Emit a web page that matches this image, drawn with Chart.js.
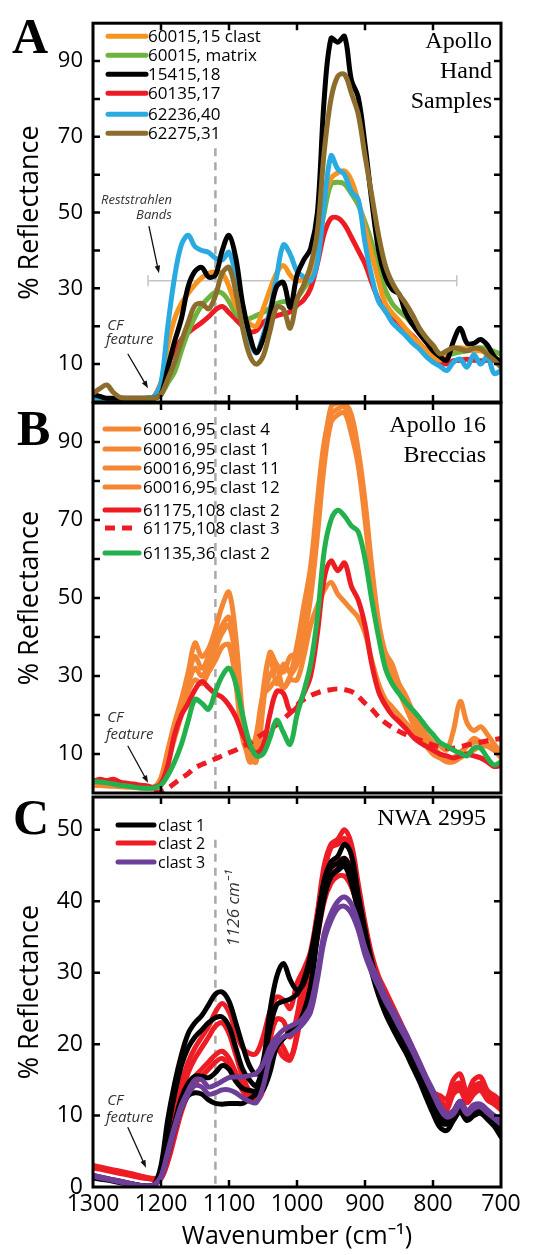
<!DOCTYPE html>
<html>
<head>
<meta charset="utf-8">
<script src="https://cdn.jsdelivr.net/npm/chart.js@4.4.1/dist/chart.umd.min.js"></script>
<style>
  html, body { margin: 0; padding: 0; background: #fff; }
  #wrap { position: relative; width: 551px; height: 1255px; }
  #wrap canvas { position: absolute; left: 0; top: 0; }
</style>
</head>
<body>
<div id="wrap">
  <canvas id="panelA" width="551" height="1255"></canvas>
  <canvas id="panelB" width="551" height="1255"></canvas>
  <canvas id="panelC" width="551" height="1255"></canvas>
</div>
<script>
// wavenumber grid (cm-1) shared by every spectrum
const wavenumbers = [1300,1290,1280,1270,1260,1250,1240,1230,1220,1210,
  1200,1190,1180,1170,1160,1150,1140,1130,1120,1110,
  1100,1090,1080,1070,1060,1050,1040,1030,1020,1010,
  1000,990,980,970,960,950,940,930,920,910,
  900,890,880,870,860,850,840,830,820,810,
  800,790,780,770,760,750,740,730,720,710,700];
const xTickValues = [1300,1200,1100,1000,900,800,700];

// ---- Panel A: Apollo hand samples (% reflectance) ----
const orangeA = [1,1,0.9,0.9,0.8,0.8,0.8,0.9,1,1.5,
  5,15,22,26,28.7,31,32.8,34,34.3,34,
  30.5,25.5,22.5,20.7,20,24.5,29.5,34,36,33.5,
  32,32.5,34,42,53,59,60.5,61,58.5,53,
  46,39,32,26,23.5,21.5,19.3,17.2,15.5,13.5,
  12,11,12.8,14,14.3,14,13.5,13.5,12.8,11.7,10.5];
const greenA = [0.5,0.6,0.7,0.8,0.8,0.8,0.8,0.9,1,1,
  2,5,8,13.5,18.5,22.5,25.5,27.5,29,28.7,
  26.5,23.3,22,22,22.8,23.6,24.8,26,26.5,26.3,
  27.5,30,33,40,50,57.5,58,57.5,55,52,
  47.5,42,35,29.5,26,24,22.5,20.5,19,16.5,
  14.5,12.5,12.2,12.8,13.2,13.5,14,14.3,14,13.3,12.6];
const blackA = [2,1.5,1,1,1,1,1,1,1,1,
  2,9,16,22,30.5,34.5,35.5,33,33.5,40,
  44,38,26,18,13,16.5,23,30.5,31.5,25,
  33.5,37.5,40.5,50,80,96,95,96.5,85,80.5,
  68,53,40,33,29.7,28.5,23.5,20.5,18,15.8,
  13.5,12,11,16,19.5,15.5,15.5,16.5,15,12,10.5];
const redA = [0.5,0.5,0.5,0.5,0.5,0.6,0.6,0.7,0.8,1.5,
  5,10,13.5,16.5,18.3,19.7,21,22.5,24.3,25.2,
  23.6,21.8,20,18.6,18.8,21,22,22.8,23.3,23.8,
  25.5,27,30,36.5,44.5,48.5,48.6,46.8,43.5,40,
  36.5,31.5,27,24,22.5,21,19,17.5,15.5,13.5,
  11.7,10.8,10,10.9,11,11.3,11,10.9,11,10.9,10];
const blueA = [1,0.8,0.5,0.5,0.5,0.5,0.7,0.8,1,1.5,
  5,20,33,41.5,44,41,40,39.5,38,37.5,
  39.5,33,23,16.5,13,17.5,24,33,41.5,39,
  34.5,33,32,37,52,65,61.5,60,55.5,53.5,
  42,33,26.5,24,21,19.2,17.5,15.5,14,12,
  10.5,9.5,8.3,10.5,11.3,9.2,12.5,10,12,7.5,8.3];
const brownA = [2.3,3.5,4.5,2.5,1.2,1,1,1,1,1,
  2,6,10.5,16,21,25.5,26,24.6,28,34,
  35.5,29,19.5,12.5,10,12,18.5,25,24.5,19.5,
  27,31,36,45,66,80,86,86.5,81.5,76,
  65,54.5,44,36,31.5,28.5,26,23,19.5,17,
  15,12.7,13.5,14.3,14,13.5,14.2,14,12.5,11,9.2];
const labelsA = ['60015,15 clast','60015, matrix','15415,18','60135,17','62236,40','62275,31'];
const colorsA = ['#f7941d','#6db33f','#000000','#ed1c24','#29abe2','#8c6d2c'];

// ---- Panel B: Apollo 16 breccias ----
const clast4B = [3,2.8,2.6,2.4,2.2,2,1.8,1.6,1.5,1.5,
  4,11,18,24,31,38.5,35,37,42,48,
  51.5,40,20,9,8,22,36,33,31,35,
  36,46,55,70,88,99,100,100,97,88,
  75,58,44,36,33,28,25,21,18,15,
  13,12,11,16,23.5,18,16,17,15,12.5,10.5];
const clast1B = [2.5,2.4,2.3,2.2,2,1.9,1.8,1.6,1.5,1.5,
  3,10,17,23,30,35,32,35,39,43,
  45,36,18,8,10,26,35,28,33,31,
  38,48,58,75,90,97,98.5,99,95,86,
  72,56,42,35,31,27,23,20,16.5,14,
  12,10,9,9,10,12,14,13,12,11,10];
const clast11B = [2.2,2.1,2,1.9,1.8,1.7,1.6,1.5,1.4,1.4,
  3,9,16,22,28,32,30,33,37,41,
  43,34,17,9,12,24,30,32,27,30,
  33,40,50,66,84,95,97,97.5,92,84,
  70,54,41,34,30,26,22,18,15,13,
  11,9.5,8.5,9,10.5,12,13,13,12.5,11,9];
const clast12B = [2,1.9,1.8,1.7,1.6,1.5,1.4,1.3,1.2,1.2,
  2.5,8,14,20,26,29,28,31,34,37.5,
  38,28,14,10,15,25,27,29,27,29,
  29,35,43,48,52,54,51,49,47,45,
  41,34,28,24,22,20,18,16,14,12,
  10,9,8,8,9,10,11,12,12,11,10];
const red2B = [3,3.5,3.2,3.5,2.8,2.5,2.3,2,1.8,1.5,
  2.5,7,15,20,23,26.5,28.6,27,25.5,24.5,
  22.5,19.5,15,12,10.3,12,20,26,25.5,21,
  22,25.5,30,41,55,59.5,57,59,53,49.5,
  43,33,26,22.5,20,18.3,16.5,14.5,13,12,
  11,10,9.5,9,9.5,10,9.5,9,8,6.8,7];
const red3B = [null,null,null,null,null,null,null,null,null,0,
  0.4,1.2,2.5,3.8,5,6.5,7.3,8,8.8,9.5,
  10.3,11,12,12.8,14,15.2,16.3,17.5,19,20.5,
  22.5,24,25,25.7,26.2,26.5,26.7,26.5,26,24.8,
  23,21.5,19.5,18,16.8,15.8,15,14.3,13.6,13,
  12.3,11.8,11.5,11.5,11.8,12.3,12.6,13,13.4,13.7,14];
const green2B = [3,2.8,2.6,2.3,2,1.8,1.5,1.3,1.2,1.3,
  2,4.5,8,12.5,18.5,24,23,21.5,26,30,
  32,28,20,13,9.5,10,14,18.7,15.5,12.5,
  20,26,33,45,62,70,72.5,71,68.5,67,
  60,49.5,40,32,28,25.5,23.2,21.3,19.3,17,
  15,13,12,11,10.2,9.5,11.5,11.5,9,7.2,8];
const labelsB = ['60016,95 clast 4','60016,95 clast 1','60016,95 clast 11','60016,95 clast 12',
  '61175,108 clast 2','61175,108 clast 3','61135,36 clast 2'];
const orangeB = '#f58634', redB = '#ed1c24', greenB = '#22b14c';

// ---- Panel C: NWA 2995 clasts ----
const clast1C = [
  [1.6,1.4,1.2,1.0,0.8,0.6,0.4,0.2,0.1,0.3,
   3,9.5,14.5,18.5,21.5,23,24,25.5,27,27.3,
   26,23,19.8,17,15.8,17.5,24.5,29.4,31.3,29,
   27.6,28.5,32,37.5,43,45.5,46.3,48,46.5,41,
   36,31.5,28.5,26.5,24.8,22.8,21,18.8,16.6,14.4,
   12.3,9.5,9.3,10.5,12,10.5,11.3,11.2,10.3,9,7.5],
  [1.5,1.3,1.1,0.9,0.7,0.5,0.4,0.2,0.1,0.3,
   2,8,13,17,19.5,21,22,23,23.7,23.8,
   22.5,19.5,16.5,15,14.2,17,22,25.5,26,26.3,
   27,29,32.5,37.5,42.5,44.8,45.3,46,44,40,
   35.5,31,27.8,25.5,23.5,21.8,20,18,16,13.8,
   11.8,9.8,9.5,10.3,11.5,10.2,11,11.3,10.5,9.3,8],
  [1.4,1.2,1.0,0.9,0.7,0.5,0.3,0.2,0.1,0.3,
   1.5,5,9,12.5,14.5,15.5,15.5,15.3,16,17,
   16.5,14.8,13.8,13.5,13.5,15,18,19.7,20.8,21.8,
   22.6,24.5,28,35,40.5,43.5,44.5,45.3,43.5,39.5,
   35,30.5,27.3,25,23,21.3,19.5,17.5,15.5,13.3,
   11.2,9.2,8.8,10,11,9.8,10.5,10.8,10,8.8,7.8],
  [1.3,1.1,1.0,0.8,0.6,0.5,0.3,0.2,0.1,0.2,
   1.5,4.5,8,11,12.8,13.2,13,12.2,11.7,11.6,
   11.7,11.7,11.7,12.3,13,13.6,16,19.6,20.8,21.5,
   22.5,24.3,28,35.5,41,43.5,44.3,44.9,42.5,38.5,
   34,30,26.8,24.3,22.3,20.5,18.8,16.8,14.8,12.5,
   10.3,8.4,7.9,9.3,10.5,9.3,10,10.3,9.5,8.5,7]
];
const clast2C = [
  [3.0,2.8,2.6,2.4,2.2,2.0,1.8,1.5,1.3,1.2,
   1.5,5,10,14.5,17.5,19.5,21,22.5,24.5,25.7,
   24.5,21.8,19.5,18.7,18.7,21,24.5,26.6,26.2,25,
   28.5,30.5,33,38.5,45,48,48.7,50,48,42.5,
   37,32.5,29.5,27.5,25.5,23.5,21.5,19.5,17.3,15.3,
   13.3,12.8,12.3,15,15.8,13.2,15,15.4,13.5,12.8,12],
  [2.9,2.7,2.5,2.3,2.1,1.9,1.7,1.5,1.3,1.1,
   1.3,4.5,9,13,16,18,19.5,21,22.5,23,
   21.5,18.5,15.5,13.5,13,15.5,20.5,23.5,23.2,21,
   24,29.5,32.5,38,44,47.5,48,48.8,46.5,41.5,
   36.5,32,29,27,25,23,21,19,17,15,
   13,12,11.5,14,14.5,12.5,14,14.5,13,12.3,11.5],
  [2.8,2.6,2.4,2.2,2.0,1.8,1.6,1.4,1.2,1.1,
   1.2,4,8,11.5,14,15.5,16.5,17.5,18.5,19,
   18,16,14,12.8,12.5,14.5,19,21,19.5,18,
   21.5,27,31.5,37,42,44.5,45.5,46,44.5,40,
   35.5,31.5,28.5,26.5,24.5,22.5,20.5,18.5,16.5,14.5,
   12.5,11.5,11,13.5,14,12,13.5,14,12.5,12,11],
  [2.7,2.5,2.3,2.1,1.9,1.7,1.5,1.3,1.2,1.1,
   1.2,3.5,7,10.5,13,14.5,15.5,16.5,17.5,18,
   17,15.3,13.5,12.3,12,13.5,17.5,19.5,18.2,17.8,
   21,26.5,30,35,40,42.5,43.5,43.5,42,39,
   35,31,28,26,24,22,20,18,16,14,
   12,11.2,10.8,13,13.5,11.8,13,13.5,12.2,11.6,10.8]
];
const clast3C = [
  [1.6,1.4,1.2,1.0,0.8,0.6,0.4,0.2,0.1,0.3,
   1.5,5,8.5,11.5,13.5,15,15,14,14.3,14.8,
   15.3,15.4,15.4,15.6,15.9,17.2,19.5,21,22,22.5,
   23,23.8,25.5,30,35.5,38.3,40,40.6,39.6,37,
   33.5,31,29,26.7,25,23.2,21.5,19.5,17.5,15.4,
   13.5,11.5,10.3,10.7,12,10.7,11.5,11.6,10.8,10,9.3],
  [1.5,1.3,1.1,0.9,0.7,0.5,0.3,0.2,0.1,0.3,
   1.3,4.5,8,11,13,14.2,14,13,13.2,13.6,
   13.6,13.2,12.5,12,11.8,14,18,20,21,21.3,
   22,23,24.5,29,34.5,37.3,39,39.3,38.3,36,
   32.5,30,28,26,24.3,22.5,20.8,19,17,15,
   13,11,9.8,10.2,11.5,10.2,11,11.2,10.4,9.6,8.8]
];
const labelsC = ['clast 1','clast 2','clast 3'];
const colorsC = ['#000000','#ee1c25','#6d3f98'];

// reference marks
const bandMarkerWn = 1120;           // dashed line labelled 1126 cm-1
const reststrahlenSpan = [1219, 765]; // grey bar in panel A
const reststrahlenLevel = 32;

const SANS = "'Open Sans', 'Noto Sans', sans-serif";
const SERIF = "'Liberation Serif', 'DejaVu Serif', serif";
Chart.defaults.font.family = SANS;
Chart.defaults.color = '#000';

function toPoints(values) {
  return values.map((v, i) => ({ x: wavenumbers[i], y: v }));
}

function spectrum(values, color, dash) {
  return {
    data: toPoints(values),
    borderColor: color,
    borderWidth: 5,
    borderDash: dash || [],
    borderCapStyle: dash ? 'butt' : 'round',
    borderJoinStyle: 'round',
    pointRadius: 0,
    tension: 0.35,
    fill: false
  };
}

function guide(points, color, width, dash) {
  return {
    data: points, borderColor: color, borderWidth: width,
    borderDash: dash || [], pointRadius: 0, tension: 0, fill: false
  };
}

// frame, inward ticks, legend and annotations
function decor(cfg) {
  return {
    id: 'decor',
    afterDraw(chart) {
      const { ctx, chartArea: a, scales: { x, y } } = chart;
      const px = wn => x.getPixelForValue(wn);
      const py = v => y.getPixelForValue(v);
      ctx.save();

      // inward ticks
      ctx.strokeStyle = '#000';
      ctx.lineWidth = 2.5;
      ctx.beginPath();
      [1200, 1100, 1000, 900, 800].forEach(v => {
        const xx = px(v);
        ctx.moveTo(xx, a.bottom); ctx.lineTo(xx, a.bottom - 7);
        ctx.moveTo(xx, a.top); ctx.lineTo(xx, a.top + 7);
      });
      cfg.yTicks.forEach(v => {
        const yy = py(v);
        ctx.moveTo(a.left, yy); ctx.lineTo(a.left + 7, yy);
        ctx.moveTo(a.right, yy); ctx.lineTo(a.right - 7, yy);
      });
      ctx.stroke();
      ctx.lineWidth = 3;
      ctx.strokeRect(a.left, a.top, a.right - a.left, a.bottom - a.top);

      // panel letter
      ctx.fillStyle = '#000';
      ctx.textBaseline = 'alphabetic';
      ctx.textAlign = 'left';
      ctx.font = 'bold 50px ' + SERIF;
      ctx.fillText(cfg.letter, cfg.letterPos[0], a.top + cfg.letterPos[1]);

      // title block (serif, right aligned)
      ctx.font = '24px ' + SERIF;
      ctx.textAlign = 'right';
      cfg.title.forEach((t, i) => ctx.fillText(t, a.right + cfg.titlePos[0], a.top + cfg.titlePos[1] + i * 30));

      // legend
      ctx.textAlign = 'left';
      ctx.textBaseline = 'middle';
      ctx.font = cfg.legend.font;
      cfg.legend.items.forEach((it, i) => {
        const yy = a.top + cfg.legend.rows[i];
        ctx.strokeStyle = it.color;
        ctx.lineWidth = 5;
        ctx.lineCap = it.dash ? 'butt' : 'round';
        ctx.setLineDash(it.dash || []);
        ctx.beginPath();
        ctx.moveTo(a.left + cfg.legend.x0, yy);
        ctx.lineTo(a.left + cfg.legend.x1, yy);
        ctx.stroke();
        ctx.setLineDash([]);
        ctx.fillStyle = '#000';
        ctx.fillText(it.label, a.left + cfg.legend.tx, yy + 1);
      });

      // grey caps on the reststrahlen bar
      (cfg.caps || []).forEach(c => {
        ctx.strokeStyle = '#c4c4c4';
        ctx.lineWidth = 1.5;
        ctx.beginPath();
        ctx.moveTo(px(c[0]), py(c[1]) - 5);
        ctx.lineTo(px(c[0]), py(c[1]) + 5);
        ctx.stroke();
      });

      // notes
      ctx.textBaseline = 'alphabetic';
      cfg.notes.forEach(n => {
        ctx.save();
        ctx.fillStyle = '#333';
        ctx.font = n.font;
        ctx.textAlign = n.align || 'left';
        ctx.translate(px(n.wn), py(n.val));
        if (n.rotate) { ctx.rotate(-Math.PI / 2); ctx.textBaseline = 'middle'; }
        ctx.fillText(n.text, 0, 0);
        ctx.restore();
      });

      // arrows
      cfg.arrows.forEach(ar => {
        const x0 = px(ar[0][0]), y0 = py(ar[0][1]);
        const x1 = px(ar[1][0]), y1 = py(ar[1][1]);
        const ang = Math.atan2(y1 - y0, x1 - x0);
        ctx.strokeStyle = '#111';
        ctx.fillStyle = '#111';
        ctx.lineWidth = 1.3;
        ctx.beginPath();
        ctx.moveTo(x0, y0);
        ctx.lineTo(x1 - 5 * Math.cos(ang), y1 - 5 * Math.sin(ang));
        ctx.stroke();
        ctx.beginPath();
        ctx.moveTo(x1, y1);
        ctx.lineTo(x1 - 8 * Math.cos(ang - 0.35), y1 - 8 * Math.sin(ang - 0.35));
        ctx.lineTo(x1 - 8 * Math.cos(ang + 0.35), y1 - 8 * Math.sin(ang + 0.35));
        ctx.closePath();
        ctx.fill();
      });
      ctx.restore();
    }
  };
}

function buildChart(id, datasets, opts) {
  const showX = !!opts.showX;
  return new Chart(document.getElementById(id), {
    type: 'line',
    data: { datasets },
    options: {
      responsive: false,
      animation: false,
      layout: { padding: { left: 0, right: 50, top: opts.top, bottom: opts.bottom } },
      plugins: { legend: { display: false }, tooltip: { enabled: false } },
      scales: {
        x: {
          type: 'linear', min: 700, max: 1300, reverse: true,
          display: showX,
          afterFit: s => { s.height = showX ? 68 : 0; },
          afterBuildTicks: s => { s.ticks = xTickValues.map(v => ({ value: v })); },
          grid: { display: false, drawTicks: false },
          border: { display: false },
          ticks: { font: { size: 23 }, padding: 4, color: '#000', maxRotation: 0, callback: v => String(v) },
          title: {
            display: showX, text: 'Wavenumber (cm\u207B\u00B9)',
            font: { size: 25 }, color: '#000', padding: { top: 0, bottom: 3 }
          }
        },
        y: {
          type: 'linear', min: 0, max: opts.yMax,
          afterFit: s => { s.width = 93; },
          afterBuildTicks: s => { s.ticks = opts.yLabels.map(v => ({ value: v })); },
          grid: { display: false, drawTicks: false },
          border: { display: false },
          ticks: { font: { size: opts.yFont }, padding: 10, color: '#000', callback: v => String(v) },
          title: {
            display: true, text: '% Reflectance',
            font: { size: 27 }, color: '#000', padding: { top: 14, bottom: 0 }
          }
        }
      }
    },
    plugins: [decor(opts.decor)]
  });
}

// ---------- Panel A ----------
buildChart('panelA', [
  spectrum(brownA, colorsA[5]),
  spectrum(blackA, colorsA[2]),
  spectrum(blueA, colorsA[4]),
  spectrum(orangeA, colorsA[0]),
  spectrum(greenA, colorsA[1]),
  spectrum(redA, colorsA[3]),
  guide([{ x: reststrahlenSpan[0], y: reststrahlenLevel }, { x: reststrahlenSpan[1], y: reststrahlenLevel }], '#c4c4c4', 1.5),
  guide([{ x: bandMarkerWn, y: 67 }, { x: bandMarkerWn, y: 0 }], '#a9a9a9', 2.5, [8, 6])
], {
  top: 13, bottom: 853, yMax: 100, yFont: 22,
  yLabels: [10, 30, 50, 70, 90],
  decor: {
    letter: 'A', letterPos: [12, 30],
    title: ['Apollo', 'Hand', 'Samples'], titlePos: [-9, 25],
    yTicks: [10, 20, 30, 40, 50, 60, 70, 80, 90],
    legend: {
      font: '17px ' + SANS, x0: 15, x1: 53, tx: 55,
      rows: [13, 32, 51, 70, 91, 110],
      items: labelsA.map((l, i) => ({ label: l, color: colorsA[i] }))
    },
    caps: [[reststrahlenSpan[0], reststrahlenLevel], [reststrahlenSpan[1], reststrahlenLevel]],
    notes: [
      { text: 'Reststrahlen', wn: 1184, val: 52.4, font: 'italic 13px ' + SANS, align: 'right' },
      { text: 'Bands', wn: 1184, val: 48.3, font: 'italic 13px ' + SANS, align: 'right' },
      { text: 'CF', wn: 1279, val: 19, font: 'italic 15px ' + SANS },
      { text: 'feature', wn: 1281, val: 15.2, font: 'italic 15px ' + SANS }
    ],
    arrows: [
      [[1217.6, 46.3], [1203, 34]],
      [[1248.5, 12.6], [1219, 3.6]]
    ]
  }
});

// ---------- Panel B ----------
buildChart('panelB', [
  spectrum(green2B, greenB),
  spectrum(red2B, redB),
  spectrum(red3B, redB, [10, 7]),
  spectrum(clast4B, orangeB),
  spectrum(clast1B, orangeB),
  spectrum(clast11B, orangeB),
  spectrum(clast12B, orangeB),
  guide([{ x: bandMarkerWn, y: 100 }, { x: bandMarkerWn, y: 0 }], '#a9a9a9', 2.5, [8, 6])
], {
  top: 403, bottom: 462, yMax: 100, yFont: 22,
  yLabels: [10, 30, 50, 70, 90],
  decor: {
    letter: 'B', letterPos: [17, 42],
    title: ['Apollo 16', 'Breccias'], titlePos: [-15, 29],
    yTicks: [10, 20, 30, 40, 50, 60, 70, 80, 90],
    legend: {
      font: '17px ' + SANS, x0: 12, x1: 46, tx: 50,
      rows: [26, 46, 65, 84, 107, 125, 150],
      items: labelsB.map((l, i) => ({
        label: l,
        color: i < 4 ? orangeB : (i < 6 ? redB : greenB),
        dash: i === 5 ? [10, 7] : null
      }))
    },
    notes: [
      { text: 'CF', wn: 1279, val: 18.2, font: 'italic 15px ' + SANS },
      { text: 'feature', wn: 1281, val: 13.8, font: 'italic 15px ' + SANS }
    ],
    arrows: [[[1248.5, 12], [1219, 2.6]]]
  }
});

// ---------- Panel C ----------
buildChart('panelC', [
  ...clast3C.map(v => spectrum(v, colorsC[2])),
  ...clast1C.map(v => spectrum(v, colorsC[0])),
  ...clast2C.map(v => spectrum(v, colorsC[1])),
  guide([{ x: bandMarkerWn, y: 48.6 }, { x: bandMarkerWn, y: 0 }], '#a9a9a9', 2.5, [8, 6])
], {
  top: 797, bottom: 0, yMax: 54.6, yFont: 23, showX: true,
  yLabels: [0, 10, 20, 30, 40, 50],
  decor: {
    letter: 'C', letterPos: [13, 37],
    title: ['NWA 2995'], titlePos: [-15, 28],
    yTicks: [10, 20, 30, 40, 50],
    legend: {
      font: '16px ' + SANS, x0: 25, x1: 61, tx: 65,
      rows: [28, 46, 65],
      items: labelsC.map((l, i) => ({ label: l, color: colorsC[i] }))
    },
    notes: [
      { text: '1126 cm\u207B\u00B9', wn: 1092.6, val: 39, font: 'italic 17px ' + SANS, align: 'center', rotate: true },
      { text: 'CF', wn: 1279, val: 11.5, font: 'italic 15px ' + SANS },
      { text: 'feature', wn: 1281, val: 9.1, font: 'italic 15px ' + SANS }
    ],
    arrows: [[[1248.5, 8.3], [1222, 2.7]]]
  }
});
</script>
</body>
</html>
